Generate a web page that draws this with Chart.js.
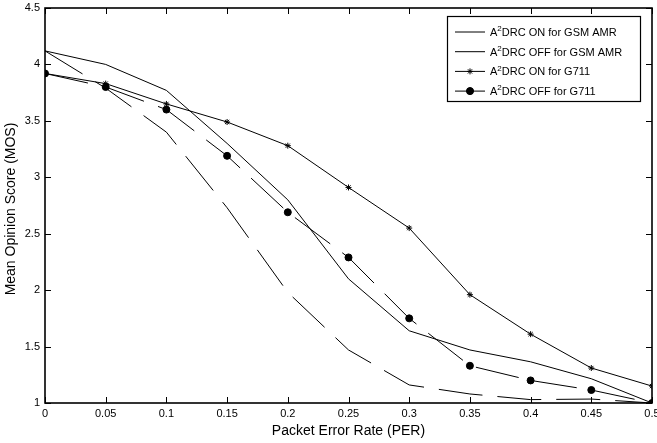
<!DOCTYPE html>
<html>
<head>
<meta charset="utf-8">
<script src="https://cdn.jsdelivr.net/npm/chart.js@4/dist/chart.umd.min.js"></script>
<style>
  html, body { margin: 0; padding: 0; background: #fff; }
  #wrap { width: 657px; height: 443px; }
</style>
</head>
<body>
<div id="wrap"><canvas id="myChart" width="657" height="443"></canvas></div>
<script>
// packet error rate on the x axis
var per = [0, 0.05, 0.1, 0.15, 0.2, 0.25, 0.3, 0.35, 0.4, 0.45, 0.5];
var xTickLabels = ['0', '0.05', '0.1', '0.15', '0.2', '0.25', '0.3', '0.35', '0.4', '0.45', '0.5'];
var yTickLabels = ['1', '1.5', '2', '2.5', '3', '3.5', '4', '4.5'];

// MOS values
var gsmOn   = [4.12, 4.00, 3.77, 3.30, 2.80, 2.10, 1.64, 1.47, 1.365, 1.215, 1.00];
var gsmOff  = [4.12, 3.79, 3.40, 2.73, 1.98, 1.47, 1.16, 1.08, 1.03, 1.035, 1.00];
var g711On  = [3.92, 3.83, 3.65, 3.49, 3.28, 2.91, 2.55, 1.96, 1.61, 1.31, 1.15];
var g711Off = [3.92, 3.80, 3.60, 3.19, 2.69, 2.29, 1.75, 1.33, 1.20, 1.115, 1.00];

var seriesNames = [
  'A\u00B2DRC ON for GSM AMR',
  'A\u00B2DRC OFF for GSM AMR',
  'A\u00B2DRC ON for G711',
  'A\u00B2DRC OFF for G711'
];
var xTitle = 'Packet Error Rate (PER)';
var yTitle = 'Mean Opinion Score (MOS)';

var FONT = '"Liberation Sans", Arial, sans-serif';

function toPoints(arr){
  return per.map(function(x, i){ return { x: x, y: arr[i] }; });
}

// inward ticks on all four sides, the box and the axis titles
var frameTicks = {
  id: 'frameTicks',
  afterDraw: function(chart){
    var ctx = chart.ctx, a = chart.chartArea;
    var xs = chart.scales.x, ys = chart.scales.y;
    ctx.save();
    ctx.strokeStyle = '#000';
    ctx.lineWidth = 1;
    ctx.beginPath();
    per.forEach(function(v){
      var px = Math.round(xs.getPixelForValue(v)) + 0.5;
      ctx.moveTo(px, a.bottom); ctx.lineTo(px, a.bottom - 6);
      ctx.moveTo(px, a.top); ctx.lineTo(px, a.top + 6);
    });
    yTickLabels.forEach(function(t){
      var py = Math.round(ys.getPixelForValue(parseFloat(t))) + 0.5;
      ctx.moveTo(a.left, py); ctx.lineTo(a.left + 6, py);
      ctx.moveTo(a.right, py); ctx.lineTo(a.right - 6, py);
    });
    ctx.stroke();
    ctx.lineWidth = 1.6;
    ctx.strokeRect(a.left, a.top, a.right - a.left, a.bottom - a.top);

    ctx.fillStyle = '#000';
    ctx.textAlign = 'center';
    ctx.textBaseline = 'middle';
    ctx.font = '14px ' + FONT;
    ctx.fillText(xTitle, (a.left + a.right) / 2, 431);
    ctx.translate(11, 209);
    ctx.rotate(-Math.PI / 2);
    ctx.fillText(yTitle, 0, 0);
    ctx.restore();
  }
};

// A, raised small 2, rest of the label
function drawLabel(ctx, text, x, y){
  var parts = text.split('\u00B2');
  ctx.font = '11px ' + FONT;
  ctx.fillText(parts[0], x, y);
  x += ctx.measureText(parts[0]).width;
  ctx.font = '8px ' + FONT;
  ctx.fillText('2', x, y - 4);
  x += ctx.measureText('2').width;
  ctx.font = '11px ' + FONT;
  ctx.fillText(parts[1], x, y);
}

// legend box drawn inside the plot, top right
var boxLegend = {
  id: 'boxLegend',
  afterDraw: function(chart){
    var ctx = chart.ctx, a = chart.chartArea;
    var bx = a.right - 205, by = a.top + 8, bw = 193, bh = 85;
    ctx.save();
    ctx.fillStyle = '#fff';
    ctx.fillRect(bx, by, bw, bh);
    ctx.strokeStyle = '#000';
    ctx.lineWidth = 1.2;
    ctx.strokeRect(bx + 0.5, by + 0.5, bw, bh);
    ctx.textBaseline = 'middle';
    ctx.textAlign = 'left';
    chart.data.datasets.forEach(function(ds, i){
      var y = by + 16 + i * 19.7;
      var x0 = bx + 8, x1 = bx + 38;
      ctx.strokeStyle = '#000';
      ctx.lineWidth = 1;
      ctx.beginPath();
      ctx.moveTo(x0, y); ctx.lineTo(x1, y);
      ctx.stroke();
      if (ds.pointRadius > 0) {
        Chart.helpers.drawPoint(ctx, {
          pointStyle: ds.pointStyle, radius: ds.pointRadius,
          borderWidth: 1, rotation: 0
        }, (x0 + x1) / 2, y);
        if (ds.pointStyle === 'circle') { ctx.fillStyle = '#000'; ctx.fill(); }
      }
      ctx.fillStyle = '#000';
      drawLabel(ctx, ds.label, bx + 43, y + 1);
    });
    ctx.restore();
  }
};

var dataSource = {
  datasets: [
    { label: seriesNames[0], data: toPoints(gsmOn), borderColor: '#000', borderWidth: 1,
      pointRadius: 0 },
    { label: seriesNames[1], data: toPoints(gsmOff), borderColor: '#000', borderWidth: 1,
      borderDash: [44, 15], pointRadius: 0 },
    { label: seriesNames[2], data: toPoints(g711On), borderColor: '#000', borderWidth: 1,
      pointStyle: 'star', pointRadius: 3, pointBorderColor: '#000', pointBorderWidth: 1 },
    { label: seriesNames[3], data: toPoints(g711Off), borderColor: '#000', borderWidth: 1,
      borderDash: [44, 15], pointStyle: 'circle', pointRadius: 3.5,
      pointBackgroundColor: '#000', pointBorderColor: '#000' }
  ]
};

var ctx = document.getElementById('myChart').getContext('2d');
var myChart = new Chart(ctx, {
  type: 'line',
  data: dataSource,
  plugins: [frameTicks, boxLegend],
  options: {
    responsive: false,
    animation: false,
    devicePixelRatio: 1,
    layout: { padding: { top: 8, right: 5, left: 0, bottom: 0 } },
    plugins: { legend: { display: false }, tooltip: { enabled: false } },
    elements: { line: { tension: 0, fill: false } },
    scales: {
      x: {
        type: 'linear', min: 0, max: 0.5,
        grid: { display: false, drawTicks: false }, border: { display: false },
        afterBuildTicks: function(s){ s.ticks = per.map(function(v){ return { value: v }; }); },
        afterFit: function(s){ s.height = 40; s.paddingLeft = 0; s.paddingRight = 0; },
        ticks: {
          autoSkip: false, maxRotation: 0, padding: 4, color: '#000',
          font: { family: FONT, size: 11 },
          callback: function(v, i){ return xTickLabels[i]; }
        }
      },
      y: {
        type: 'linear', min: 1, max: 4.5,
        grid: { display: false, drawTicks: false }, border: { display: false },
        afterBuildTicks: function(s){ s.ticks = yTickLabels.map(function(t){ return { value: parseFloat(t) }; }); },
        afterFit: function(s){ s.width = 45; s.paddingTop = 0; s.paddingBottom = 0; },
        ticks: {
          padding: 5, color: '#000',
          font: { family: FONT, size: 11 },
          callback: function(v, i){ return yTickLabels[i]; }
        }
      }
    }
  }
});
</script>
</body>
</html>
